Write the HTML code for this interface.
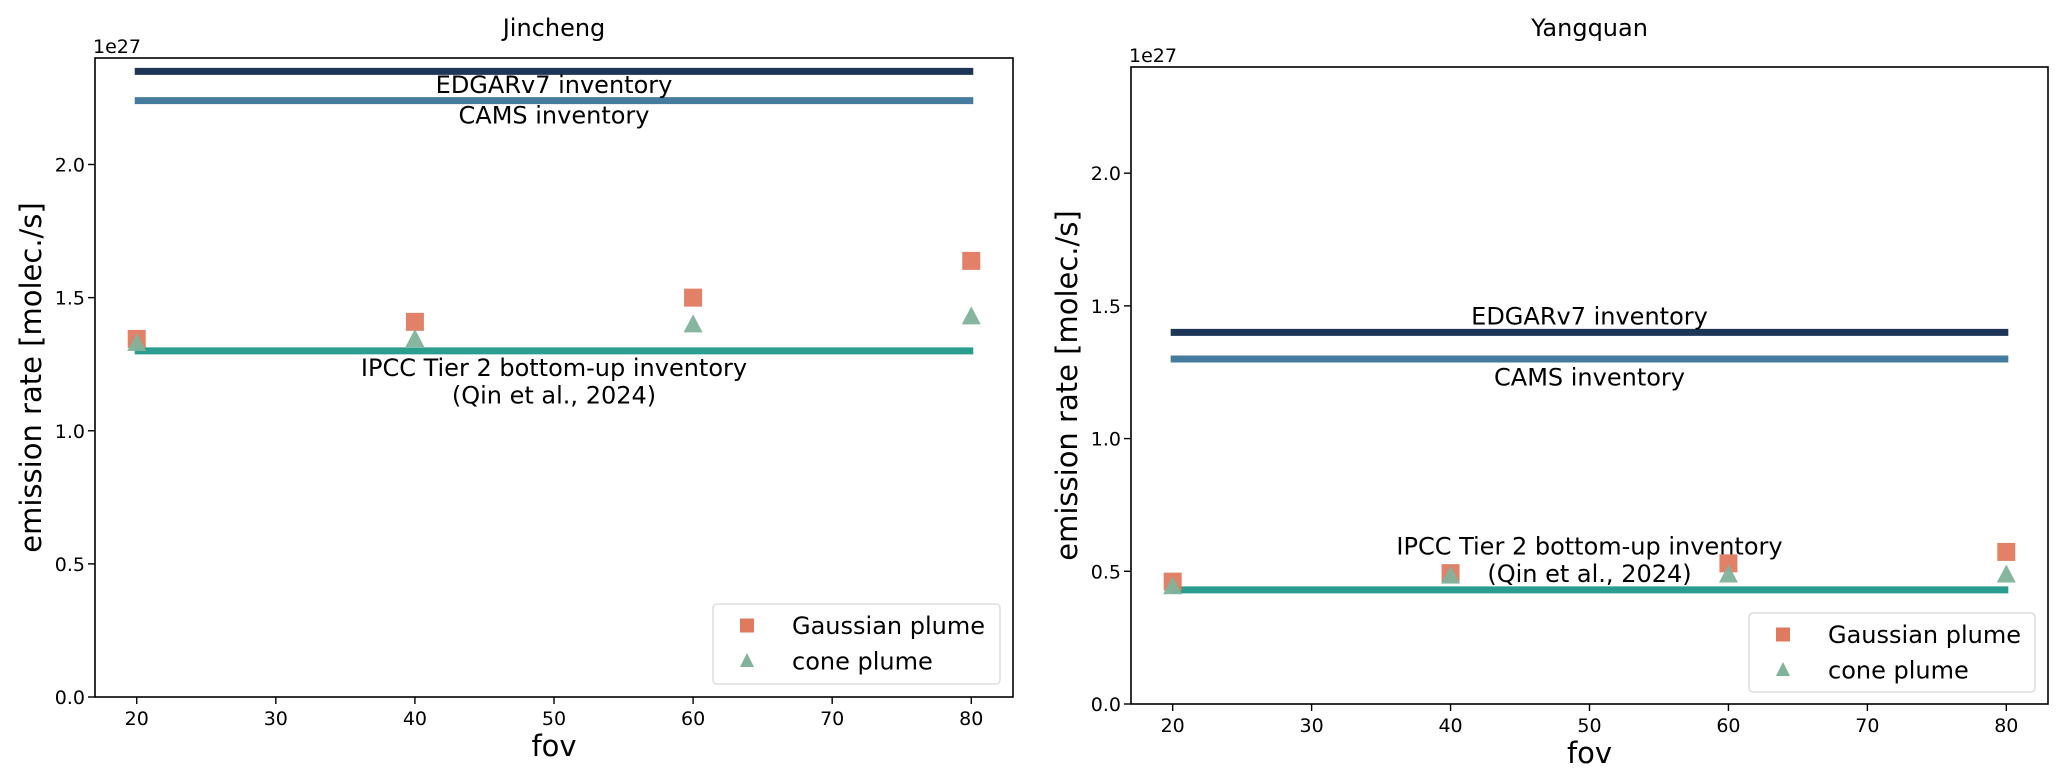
<!DOCTYPE html>
<html><head><meta charset="utf-8">
<style>
html,body{margin:0;padding:0;background:#fff;}
svg{display:block;font-family:"DejaVu Sans","Liberation Sans",sans-serif;}
</style></head>
<body>
<svg id="chart" width="2067" height="783" viewBox="0 0 2067 783" xmlns="http://www.w3.org/2000/svg"></svg>
<script>
const fovValues = [20, 40, 60, 80];
const xTicks = [20, 30, 40, 50, 60, 70, 80];
const yTicks = [0.0, 0.5, 1.0, 1.5, 2.0];
const yTickLabels = ["0.0", "0.5", "1.0", "1.5", "2.0"];
const panelTitles = ["Jincheng", "Yangquan"];
const jinchengGaussian = [1.345, 1.409, 1.50, 1.638];
const jinchengCone = [1.326, 1.341, 1.396, 1.426];
const jinchengEdgar = 2.35;
const jinchengCams = 2.24;
const jinchengIpcc = 1.30;
const yangquanGaussian = [0.461, 0.493, 0.530, 0.573];
const yangquanCone = [0.44, 0.48, 0.484, 0.484];
const yangquanEdgar = 1.40;
const yangquanCams = 1.30;
const yangquanIpcc = 0.43;

const NS = "http://www.w3.org/2000/svg";
const svg = document.getElementById("chart");
function mk(tag, attrs, parent, text) {
  const e = document.createElementNS(NS, tag);
  for (const k in attrs) e.setAttribute(k, attrs[k]);
  if (text !== undefined) e.textContent = text;
  (parent || svg).appendChild(e);
  return e;
}

const panels = [
  {L:95, R:1013, T:58, B:697, title:panelTitles[0], g:jinchengGaussian, c:jinchengCone, edgar:jinchengEdgar, cams:jinchengCams, ipcc:jinchengIpcc,
   edgarDy:13.5, camsDy:15, ipccDy:[17,44.5], legend:{x:713,y:604,w:287,h:80}, titleY:36, name:"jincheng"},
  {L:1131, R:2048, T:67, B:704, title:panelTitles[1], g:yangquanGaussian, c:yangquanCone, edgar:yangquanEdgar, cams:yangquanCams, ipcc:yangquanIpcc,
   edgarDy:-16, camsDy:18.5, ipccDy:[-43.5,-16], legend:{x:1749,y:613,w:286,h:79}, titleY:36, name:"yangquan"}
];

panels.forEach(p => {
  const g = mk("g", {}, svg);
  
  
  const xs = v => p.L + (v - 17) / 66 * (p.R - p.L);
  const ys = v => p.B - v / 2.4 * (p.B - p.T);

  const t = mk("text", {x:(p.L+p.R)/2, y:p.titleY, "font-size":24, "text-anchor":"middle", fill:"#000"}, g, p.title);
  
  

  const lines = [[p.edgar,"#1d3557","edgar-line"],[p.cams,"#457b9d","cams-line"],[p.ipcc,"#2a9d8f","ipcc-line"]];
  lines.forEach(l => {
    const ln = mk("line", {x1:xs(20)-2, x2:xs(80)+2, y1:ys(l[0]), y2:ys(l[0]), stroke:l[1], "stroke-width":7}, g);
    
    
  });
  const cx = xs(50);
  const te = mk("text", {x:cx, y:ys(p.edgar)+p.edgarDy+8, "font-size":24, "text-anchor":"middle"}, g, "EDGARv7 inventory");
  
  
  const tc = mk("text", {x:cx, y:ys(p.cams)+p.camsDy+8, "font-size":24, "text-anchor":"middle"}, g, "CAMS inventory");
  
  
  const ti1 = mk("text", {x:cx, y:ys(p.ipcc)+p.ipccDy[0]+8, "font-size":24, "text-anchor":"middle"}, g, "IPCC Tier 2 bottom-up inventory");
  
  
  const ti2 = mk("text", {x:cx, y:ys(p.ipcc)+p.ipccDy[1]+8, "font-size":24, "text-anchor":"middle"}, g, "(Qin et al., 2024)");
  
  

  fovValues.forEach((f, i) => {
    const x = xs(f), y = ys(p.g[i]);
    const sq = mk("rect", {x:x-9, y:y-9, width:18, height:18, fill:"#e07a5f", opacity:0.95}, g);
    
    
  });
  fovValues.forEach((f, i) => {
    const x = xs(f), y = ys(p.c[i]);
    const tr = mk("polygon", {points:`${x},${y-11} ${x+9.5},${y+7} ${x-9.5},${y+7}`, fill:"#81b29a", opacity:0.95}, g);
    
    
  });

  const fr = mk("rect", {x:p.L, y:p.T, width:p.R-p.L, height:p.B-p.T, fill:"none", stroke:"#000", "stroke-width":1.6}, g);
  
  

  xTicks.forEach(v => {
    const x = xs(v);
    mk("line", {x1:x, x2:x, y1:p.B, y2:p.B+7, stroke:"#000", "stroke-width":1.4}, g);
    const tl = mk("text", {x:x, y:p.B+28, "font-size":19, "text-anchor":"middle"}, g, String(v));
    
    
  });
  yTicks.forEach((v, i) => {
    const y = ys(v);
    mk("line", {x1:p.L-7, x2:p.L, y1:y, y2:y, stroke:"#000", "stroke-width":1.4}, g);
    const tl = mk("text", {x:p.L-10, y:y+7, "font-size":19, "text-anchor":"end"}, g, yTickLabels[i]);
    
    
  });
  const off = mk("text", {x:p.L-2, y:p.T-5, "font-size":19}, g, "1e27");
  
  

  const xl = mk("text", {x:(p.L+p.R)/2, y:p.B+59, "font-size":29, "text-anchor":"middle"}, g, "fov");
  
  
  const ylx = p.L - 54, yly = (p.T+p.B)/2;
  const yl = mk("text", {x:ylx, y:yly, "font-size":29, "text-anchor":"middle", transform:`rotate(-90 ${ylx} ${yly})`}, g, "emission rate [molec./s]");
  
  

  const lg = mk("g", {}, g);
  
  
  const L = p.legend;
  mk("rect", {x:L.x, y:L.y, width:L.w, height:L.h, rx:4, fill:"#fff", "fill-opacity":0.8, stroke:"#d8d8d8", "stroke-width":1.3}, lg);
  const mx = L.x + 34, r1 = L.y + 21.5, r2 = L.y + 57;
  mk("rect", {x:mx-7, y:r1-7, width:14, height:14, fill:"#e07a5f"}, lg);
  mk("polygon", {points:`${mx},${r2-8} ${mx+7},${r2+6} ${mx-7},${r2+6}`, fill:"#81b29a"}, lg);
  const e1 = mk("text", {x:L.x+79, y:r1+8.5, "font-size":24}, lg, "Gaussian plume");
  
  
  const e2 = mk("text", {x:L.x+79, y:r2+8.5, "font-size":24}, lg, "cone plume");
  
  
});
</script>
</body></html>
